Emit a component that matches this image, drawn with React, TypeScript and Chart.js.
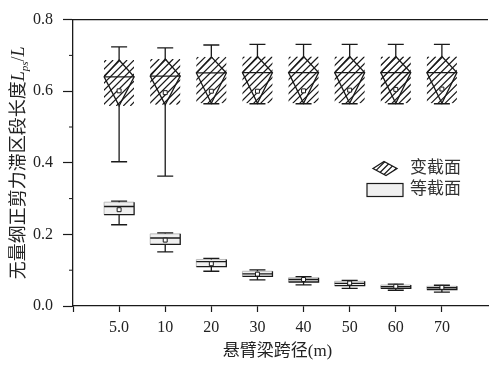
import React, { useEffect, useRef } from 'react';
import { Chart, registerables } from 'chart.js';

Chart.register(...registerables);

// ---------- data ----------
const categories = ['5.0', '10', '20', '30', '40', '50', '60', '70'];

// 变截面 (variable section)
const varMax = [0.724, 0.721, 0.729, 0.731, 0.731, 0.731, 0.731, 0.731];
const varQ3 = [0.687, 0.69, 0.696, 0.697, 0.697, 0.697, 0.697, 0.697];
const varMedian = [0.64, 0.642, 0.651, 0.652, 0.652, 0.652, 0.652, 0.652];
const varMean = [0.601, 0.596, 0.6, 0.6, 0.601, 0.603, 0.605, 0.606];
const varQ1 = [0.559, 0.562, 0.566, 0.566, 0.566, 0.566, 0.566, 0.566];
const varMin = [0.403, 0.363, 0.565, 0.565, 0.565, 0.565, 0.565, 0.565];

// 等截面 (constant section)
const conMax = [0.293, 0.204, 0.133, 0.101, 0.082, 0.0715, 0.061, 0.058];
const conQ3 = [0.29, 0.2015, 0.13, 0.097, 0.079, 0.069, 0.0586, 0.055];
const conMedian = [0.278, 0.19, 0.124, 0.09, 0.074, 0.063, 0.054, 0.051];
const conMean = [0.269, 0.184, 0.118, 0.089, 0.074, 0.064, 0.055, 0.052];
const conQ1 = [0.255, 0.172, 0.11, 0.083, 0.067, 0.057, 0.0495, 0.046];
const conMin = [0.227, 0.151, 0.097, 0.073, 0.059, 0.0495, 0.044, 0.039];

const yTickValues = [0, 0.2, 0.4, 0.6, 0.8];
const yMinorTickValues = [0.1, 0.3, 0.5, 0.7];

const legendLabels = ['变截面', '等截面'];
const xTitle = '悬臂梁跨径(m)';
const yTitleCJK = '无量纲正剪力滞区段长度';

// ---------- style ----------
const W = 493;
const H = 365;
const INK = '#1a1a1a';
const TEXT = '#222';
const BOX_FILL = '#f0f0f0';
const SERIF = "'Liberation Serif', 'Noto Sans CJK SC'";
const HALF_BOX = 15;
const HALF_CAP = 8;

function hatch(ctx: CanvasRenderingContext2D, x0: number, y0: number, x1: number, y1: number, spacing: number) {
  const h = y1 - y0;
  ctx.beginPath();
  for (let k = -h; k < x1 - x0 + h; k += spacing) {
    ctx.moveTo(x0 + k, y1);
    ctx.lineTo(x0 + k + h, y0);
  }
  ctx.stroke();
}

const boxPlugin = {
  id: 'boxPlots',
  beforeDatasetsDraw(chart: any) {
    const { ctx } = chart;
    const xs = chart.scales.x;
    const ys = chart.scales.y;
    ctx.save();
    ctx.strokeStyle = INK;
    ctx.lineCap = 'butt';
    categories.forEach((_, i) => {
      const cx = xs.getPixelForValue(i + 1);
      const l = cx - HALF_BOX;
      const r = cx + HALF_BOX;

      // ---- variable section ----
      const pMax = ys.getPixelForValue(varMax[i]);
      const pQ3 = ys.getPixelForValue(varQ3[i]);
      const pMed = ys.getPixelForValue(varMedian[i]);
      const pQ1 = ys.getPixelForValue(varQ1[i]);
      const pMin = ys.getPixelForValue(varMin[i]);

      ctx.save();
      ctx.beginPath();
      ctx.rect(l, pQ3, r - l, pQ1 - pQ3);
      ctx.clip();
      ctx.lineWidth = 1.25;
      hatch(ctx, l + 2, pQ3, r, pQ1, 7);
      ctx.restore();

      ctx.lineWidth = 1.3;
      ctx.beginPath();
      ctx.moveTo(cx, pQ3);
      ctx.lineTo(r, pMed);
      ctx.lineTo(cx, pQ1);
      ctx.lineTo(l, pMed);
      ctx.closePath();
      ctx.stroke();
      ctx.beginPath();
      ctx.moveTo(l, pMed);
      ctx.lineTo(r, pMed);
      // whiskers
      ctx.moveTo(cx, pQ3);
      ctx.lineTo(cx, pMax);
      ctx.moveTo(cx - HALF_CAP, pMax);
      ctx.lineTo(cx + HALF_CAP, pMax);
      ctx.moveTo(cx, pQ1);
      ctx.lineTo(cx, pMin);
      ctx.moveTo(cx - HALF_CAP, pMin);
      ctx.lineTo(cx + HALF_CAP, pMin);
      ctx.stroke();

      // ---- constant section ----
      const cMax = ys.getPixelForValue(conMax[i]);
      const cQ3 = ys.getPixelForValue(conQ3[i]);
      const cMed = ys.getPixelForValue(conMedian[i]);
      const cQ1 = ys.getPixelForValue(conQ1[i]);
      const cMin = ys.getPixelForValue(conMin[i]);

      ctx.fillStyle = BOX_FILL;
      ctx.fillRect(l, cQ3, r - l, cQ1 - cQ3);
      ctx.lineWidth = 1;
      ctx.strokeStyle = '#bbb';
      ctx.beginPath();
      ctx.moveTo(l, cQ1);
      ctx.lineTo(l, cQ3);
      ctx.lineTo(r, cQ3);
      ctx.stroke();
      ctx.strokeStyle = INK;
      ctx.lineWidth = 1.3;
      ctx.beginPath();
      ctx.moveTo(r, cQ3);
      ctx.lineTo(r, cQ1);
      ctx.lineTo(l, cQ1);
      ctx.moveTo(l, cMed);
      ctx.lineTo(r, cMed);
      ctx.moveTo(cx, cQ3);
      ctx.lineTo(cx, cMax);
      ctx.moveTo(cx - HALF_CAP, cMax);
      ctx.lineTo(cx + HALF_CAP, cMax);
      ctx.moveTo(cx, cQ1);
      ctx.lineTo(cx, cMin);
      ctx.moveTo(cx - HALF_CAP, cMin);
      ctx.lineTo(cx + HALF_CAP, cMin);
      ctx.stroke();
    });
    ctx.restore();
  },
  afterDraw(chart: any) {
    const { ctx, chartArea } = chart;
    const ys = chart.scales.y;
    ctx.save();
    // top frame line
    ctx.strokeStyle = INK;
    ctx.lineWidth = 1.3;
    ctx.beginPath();
    ctx.moveTo(chartArea.left, chartArea.top);
    ctx.lineTo(chartArea.right, chartArea.top);
    ctx.stroke();
    // minor y ticks
    ctx.lineWidth = 1;
    ctx.beginPath();
    yMinorTickValues.forEach((v) => {
      const py = ys.getPixelForValue(v);
      ctx.moveTo(chartArea.left - 4, py);
      ctx.lineTo(chartArea.left, py);
    });
    ctx.stroke();

    // y title
    ctx.save();
    ctx.translate(18, (chartArea.top + chartArea.bottom) / 2);
    ctx.rotate(-Math.PI / 2);
    ctx.fillStyle = TEXT;
    ctx.textBaseline = 'alphabetic';
    ctx.textAlign = 'left';
    const fMain = `18px ${SERIF}`;
    const fItal = `italic 18px 'Liberation Serif'`;
    const fSub = `italic 11px 'Liberation Serif'`;
    const fReg = `18px 'Liberation Serif'`;
    const parts: [string, string, number][] = [
      [yTitleCJK, fMain, 0],
      ['L', fItal, 0],
      ['ps', fSub, 4],
      ['/', fReg, 0],
      ['L', fItal, 0],
    ];
    let total = 0;
    parts.forEach(([t, f]) => {
      ctx.font = f;
      total += ctx.measureText(t).width;
    });
    let px = -total / 2;
    parts.forEach(([t, f, dy]) => {
      ctx.font = f;
      ctx.fillText(t, px, 6 + dy);
      px += ctx.measureText(t).width;
    });
    ctx.restore();

    // x title
    ctx.fillStyle = TEXT;
    ctx.font = `17px ${SERIF}`;
    ctx.textAlign = 'center';
    ctx.textBaseline = 'middle';
    ctx.fillText(xTitle, (chartArea.left + chartArea.right) / 2 - 3, 352);

    // legend
    const lx = 373;
    const ly1 = 168.5;
    const diamond = () => {
      ctx.beginPath();
      ctx.moveTo(lx, ly1);
      ctx.lineTo(lx + 11, ly1 - 7);
      ctx.lineTo(lx + 24, ly1);
      ctx.lineTo(lx + 13, ly1 + 7);
      ctx.closePath();
    };
    ctx.save();
    diamond();
    ctx.clip();
    ctx.strokeStyle = INK;
    ctx.lineWidth = 1.2;
    hatch(ctx, lx, ly1 - 7, lx + 24, ly1 + 7, 6);
    ctx.restore();
    ctx.strokeStyle = INK;
    ctx.lineWidth = 1.3;
    diamond();
    ctx.stroke();

    ctx.fillStyle = BOX_FILL;
    ctx.fillRect(367, 183.5, 36, 13);
    ctx.strokeStyle = INK;
    ctx.lineWidth = 1.2;
    ctx.strokeRect(367, 183.5, 36, 13);

    ctx.fillStyle = '#333';
    ctx.font = `17px ${SERIF}`;
    ctx.textAlign = 'left';
    ctx.textBaseline = 'middle';
    ctx.fillText(legendLabels[0], 410, ly1);
    ctx.fillText(legendLabels[1], 410, 190);
    ctx.restore();
  },
};

export default function App() {
  const ref = useRef<HTMLCanvasElement | null>(null);

  useEffect(() => {
    if (!ref.current) return;
    const chart = new Chart(ref.current, {
      type: 'scatter',
      data: {
        datasets: [
          {
            label: legendLabels[0],
            data: varMean.map((v, i) => ({ x: i + 1, y: v })),
            pointStyle: 'rect',
            pointRadius: 2.8,
            backgroundColor: '#fff',
            borderColor: INK,
            borderWidth: 1,
          },
          {
            label: legendLabels[1],
            data: conMean.map((v, i) => ({ x: i + 1, y: v })),
            pointStyle: 'rect',
            pointRadius: 2.8,
            backgroundColor: '#fff',
            borderColor: INK,
            borderWidth: 1,
          },
        ],
      },
      options: {
        responsive: false,
        animation: false,
        events: [],
        layout: { padding: { top: 15, right: 1, left: 0, bottom: 0 } },
        plugins: {
          legend: { display: false },
          tooltip: { enabled: false },
        },
        scales: {
          x: {
            type: 'linear',
            min: 0,
            max: 9,
            afterBuildTicks: (scale: any) => {
              scale.ticks = [{ value: 0 }, ...categories.map((_, i) => ({ value: i + 1 }))];
            },
            afterFit: (scale: any) => {
              scale.height = H - 306;
            },
            ticks: {
              autoSkip: false,
              maxRotation: 0,
              padding: 6,
              color: TEXT,
              font: { family: "'Liberation Serif'", size: 16 },
              callback: (v: any) => (v >= 1 ? categories[Math.round(v) - 1] : ''),
            },
            grid: {
              display: true,
              drawOnChartArea: false,
              drawTicks: true,
              tickLength: 6,
              tickColor: INK,
              tickWidth: 1.2,
              color: INK,
            },
            border: { display: true, color: INK, width: 1.3 },
          },
          y: {
            type: 'linear',
            min: 0,
            max: 0.8,
            afterBuildTicks: (scale: any) => {
              scale.ticks = yTickValues.map((v) => ({ value: v }));
            },
            afterFit: (scale: any) => {
              scale.width = 73;
            },
            ticks: {
              padding: 10,
              color: TEXT,
              font: { family: "'Liberation Serif'", size: 16 },
              callback: (v: any) => Number(v).toFixed(1),
            },
            grid: {
              display: true,
              drawOnChartArea: false,
              drawTicks: true,
              tickLength: 10,
              tickColor: INK,
              tickWidth: 1.2,
              color: INK,
            },
            border: { display: true, color: INK, width: 1.3 },
          },
        },
      } as any,
      plugins: [boxPlugin],
    });
    return () => chart.destroy();
  }, []);

  return (
    <div style={{ position: 'fixed', left: 0, top: 0, width: W, height: H, background: '#fff' }}>
      <canvas ref={ref} width={W} height={H} style={{ width: W, height: H, display: 'block' }} />
    </div>
  );
}
